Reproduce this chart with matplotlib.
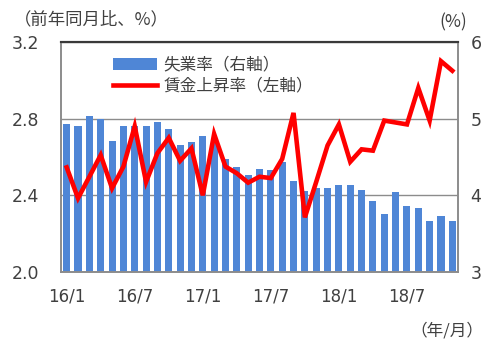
import matplotlib
matplotlib.use("Agg")
import matplotlib.pyplot as plt
from matplotlib.patches import Patch
from matplotlib.lines import Line2D
import numpy as np

plt.rcParams['font.family'] = ['Noto Sans CJK JP', 'DejaVu Sans']

# Monthly data, 2016/1 - 2018/11
months = [f"{y}/{m}" for y in (16, 17, 18) for m in range(1, 13)][:35]
unemployment = [4.93, 4.91, 5.03, 4.99, 4.71, 4.91, 4.90, 4.90, 4.95, 4.86,
                4.65, 4.69, 4.78, 4.70, 4.47, 4.37, 4.27, 4.34, 4.33, 4.43,
                4.19, 4.06, 4.10, 4.09, 4.14, 4.13, 4.07, 3.92, 3.75, 4.04,
                3.86, 3.84, 3.67, 3.73, 3.66]
wage_growth = [2.546, 2.385, 2.497, 2.61, 2.437, 2.55, 2.76, 2.47, 2.62, 2.70,
               2.58, 2.645, 2.40, 2.72, 2.55, 2.515, 2.466, 2.497, 2.49, 2.59,
               2.83, 2.285, 2.47, 2.66, 2.77, 2.575, 2.64, 2.633, 2.79, 2.78,
               2.77, 2.96, 2.79, 3.10, 3.05]
tick_months = ["16/1", "16/7", "17/1", "17/7", "18/1", "18/7"]

left_ticks = [2.0, 2.4, 2.8, 3.2]
right_ticks = [3, 4, 5, 6]

bar_color = '#4F86D6'
line_color = '#FF0000'
text_color = '#404040'
num_font = 'DejaVu Sans'

fig = plt.figure(figsize=(5, 3.42), dpi=100)
ax_bar = fig.add_axes([0.122, 0.2047, 0.794, 0.6725])
ax_line = ax_bar.twinx()

x = np.arange(len(months))

# Unemployment bars on the right-hand scale
ax_bar.bar(x, unemployment, width=0.62, color=bar_color, zorder=2)
ax_bar.set_ylim(3, 6)
ax_bar.set_xlim(-0.5, len(months) - 0.5)
ax_bar.set_yticks(right_ticks)
ax_bar.set_yticklabels([str(t) for t in right_ticks], family=num_font, fontsize=12.5)
ax_bar.yaxis.tick_right()
ax_bar.tick_params(axis='y', length=0, pad=9, colors=text_color)
ax_bar.set_axisbelow(True)
ax_bar.grid(axis='y', color='#8C8C8C', linewidth=1.0)
ax_bar.grid(axis='x', visible=False)

# Wage growth line on the left-hand scale
ax_line.plot(x, wage_growth, color=line_color, linewidth=3.3, solid_joinstyle='miter', zorder=3)
ax_line.set_ylim(2.0, 3.2)
ax_line.set_yticks(left_ticks)
ax_line.set_yticklabels([f"{t:.1f}" for t in left_ticks], family=num_font, fontsize=12.5)
ax_line.yaxis.tick_left()
ax_line.tick_params(axis='y', length=0, pad=16, colors=text_color)

tick_pos = [months.index(m) for m in tick_months]
ax_bar.set_xticks(tick_pos)
ax_bar.set_xticklabels(tick_months, family=num_font, fontsize=12)
ax_bar.tick_params(axis='x', length=0, pad=11, colors=text_color)

for a in (ax_bar, ax_line):
    for side in ('left', 'right', 'bottom'):
        a.spines[side].set_color('#8C8C8C')
        a.spines[side].set_linewidth(1.2)
    a.spines['top'].set_color('#3A3A3A')
    a.spines['top'].set_linewidth(1.5)

handles = [Patch(facecolor=bar_color, edgecolor='none', label='失業率（右軸）'),
           Line2D([0], [0], color=line_color, linewidth=3.3, label='賃金上昇率（左軸）')]
leg = ax_line.legend(handles=handles, loc='upper left', bbox_to_anchor=(0.115, 0.965),
                     frameon=False, fontsize=12, handlelength=2.64, handletextpad=0.36,
                     labelspacing=0.25, borderaxespad=0)
for t in leg.get_texts():
    t.set_color(text_color)

fig.text(0.028, 0.943, '（前年同月比、%）', fontsize=12.5, va='center', ha='left', color=text_color)
fig.text(0.878, 0.934, '(%)', fontsize=12.5, va='center', ha='left', color=text_color)
fig.text(0.82, 0.032, '（年/月）', fontsize=12, va='center', ha='left', color=text_color)

fig.savefig('out.png', dpi=100)
